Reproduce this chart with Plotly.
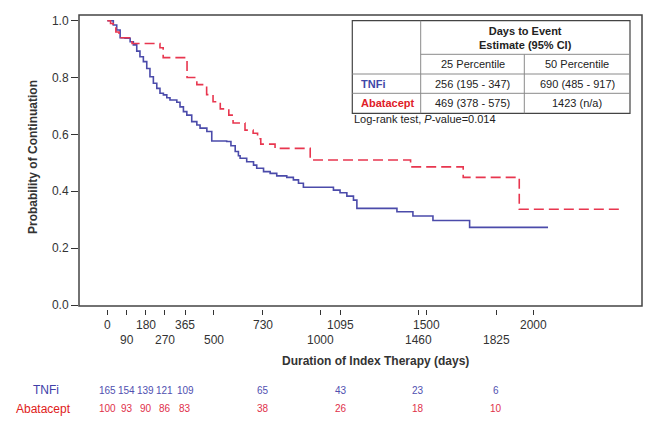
import plotly.graph_objects as go

# Kaplan-Meier step points (days, probability of continuation)
tnfi_days = [0, 28, 44, 60, 83, 107, 122, 138, 153, 169, 185, 200, 216, 232, 247, 263, 279, 294,
             326, 341, 357, 373, 396, 420, 435, 467, 490, 560, 580, 600, 615, 623, 654, 686, 701,
             733, 764, 795, 842, 873, 897, 920, 1061, 1092, 1124, 1155, 1171, 1359, 1434, 1528,
             1700, 2068]
tnfi_prob = [1.0, 0.985, 0.967, 0.94, 0.938, 0.926, 0.915, 0.893, 0.873, 0.856, 0.832, 0.803,
             0.78, 0.762, 0.745, 0.739, 0.729, 0.721, 0.713, 0.697, 0.68, 0.668, 0.645, 0.633,
             0.622, 0.61, 0.577, 0.575, 0.56, 0.54, 0.525, 0.516, 0.504, 0.492, 0.481, 0.469,
             0.463, 0.454, 0.449, 0.44, 0.428, 0.414, 0.404, 0.395, 0.383, 0.369, 0.34, 0.328,
             0.313, 0.297, 0.273, 0.273]

abat_days = [0, 15, 27, 40, 55, 116, 247, 262, 374, 420, 466, 496, 530, 570, 590, 646, 684, 705,
             720, 787, 952, 1423, 1670, 1933, 2420]
abat_prob = [1.0, 0.99, 0.98, 0.96, 0.94, 0.92, 0.905, 0.87, 0.80, 0.775, 0.74, 0.715, 0.69,
             0.668, 0.64, 0.615, 0.604, 0.585, 0.566, 0.551, 0.51, 0.486, 0.449, 0.337, 0.337]

# x tick labels, split in two staggered rows
tick_row1 = [0, 180, 365, 730, 1095, 1500, 2000]
tick_row2 = [90, 270, 500, 1000, 1460, 1825]

# numbers at risk
risk_days = [0, 90, 180, 270, 365, 730, 1095, 1460, 1825]
risk_tnfi = [165, 154, 139, 121, 109, 65, 43, 23, 6]
risk_abat = [100, 93, 90, 86, 83, 38, 26, 18, 10]

# table content
table_cols = ["25 Percentile", "50 Percentile"]
table_groups = ["TNFi", "Abatacept"]
est_25 = ["256 (195 - 347)", "469 (378 - 575)"]
est_50 = ["690 (485 - 917)", "1423 (n/a)"]

BLUE = "#4B4BAA"
RED = "#E8364F"
FONT = "Arial, Liberation Sans, sans-serif"
GRAY = "#333333"

# page body has an 8px margin, so the figure is shrunk by that much
OFF = 8
W, H = 656 - OFF, 423 - OFF
L, R, T, B = 79 - OFF, 14, 15 - OFF, 114
PW, PH = W - L - R, H - T - B
BOTTOM = OFF + H - B


def px(x):
    return (x - OFF - L) / PW


def py(y):
    return (BOTTOM - y) / PH


def note(x, y, text, size=12, color=GRAY, xref="paper", **kw):
    d = dict(x=x, y=y, xref=xref, yref="paper", text=text, showarrow=False,
             xanchor="center", yanchor="middle",
             font=dict(family=FONT, size=size, color=color))
    d.update(kw)
    return d


fig = go.Figure()
fig.add_trace(go.Scatter(x=tnfi_days, y=tnfi_prob, mode="lines", line_shape="hv",
                         line=dict(color=BLUE, width=1.6), name="TNFi"))
fig.add_trace(go.Scatter(x=abat_days, y=abat_prob, mode="lines", line_shape="hv",
                         line=dict(color=RED, width=1.6, dash="10px,5px"), name="Abatacept"))

all_ticks = sorted(tick_row1 + tick_row2)
fig.update_xaxes(range=[-133, 2509], anchor="free", position=0, showline=False,
                 showgrid=False, zeroline=False, ticks="outside", ticklen=5,
                 tickcolor=GRAY, tickwidth=1, tickvals=all_ticks, showticklabels=False)
fig.update_yaxes(range=[-0.0035, 1.02], domain=[3 / PH, 1], showline=False, showgrid=False,
                 zeroline=False, ticks="outside", ticklen=7, tickcolor=GRAY,
                 tickvals=[0, 0.2, 0.4, 0.6, 0.8, 1.0], tickformat=".1f",
                 tickfont=dict(family=FONT, size=12, color=GRAY))

shapes = [dict(type="rect", xref="x domain", yref="y domain", x0=0, x1=1, y0=0, y1=1,
               line=dict(color="#444444", width=1.5))]

ann = []
for v in tick_row1:
    ann.append(note(v, py(325), str(v), xref="x"))
for v in tick_row2:
    ann.append(note(v, py(339.5), str(v), xref="x"))

ann.append(note(px(375), py(361), "<b>Duration of Index Therapy (days)</b>"))
ann.append(note(px(33), py(157), "<b>Probability of Continuation</b>", textangle=-90))

# numbers at risk
ann.append(note(px(46), py(390), "TNFi", color="#4040A8"))
ann.append(note(px(43), py(409), "Abatacept", color="#E02020"))
for d, a, b in zip(risk_days, risk_tnfi, risk_abat):
    ann.append(note(d, py(390), str(a), size=10, color="#5050B0", xref="x"))
    ann.append(note(d, py(408), str(b), size=10, color="#E0304A", xref="x"))

# summary table
tx0, tx1, tc1, tc2 = 352.3, 630, 420.7, 524.3
ty0, ty1, ty_h, ty_r1, ty_r2 = 20.7, 113.3, 54.3, 74, 93.3
inner = dict(color="#8a8a8a", width=1)
shapes.append(dict(type="rect", xref="paper", yref="paper", x0=px(tx0), x1=px(tx1),
                   y0=py(ty1), y1=py(ty0), line=dict(color="#444444", width=1.2),
                   fillcolor="white", layer="above"))
shapes.append(dict(type="line", xref="paper", yref="paper", x0=px(tc1), x1=px(tc1),
                   y0=py(ty0), y1=py(ty1), line=inner))
shapes.append(dict(type="line", xref="paper", yref="paper", x0=px(tc2), x1=px(tc2),
                   y0=py(ty_h), y1=py(ty1), line=inner))
shapes.append(dict(type="line", xref="paper", yref="paper", x0=px(tc1), x1=px(tx1),
                   y0=py(ty_h), y1=py(ty_h), line=inner))
for yy in [ty_r1, ty_r2]:
    shapes.append(dict(type="line", xref="paper", yref="paper", x0=px(tx0), x1=px(tx1),
                       y0=py(yy), y1=py(yy), line=inner))

TC = "#222222"
ann.append(note(px((tc1 + tx1) / 2), py(38), "<b>Days to Event</b><br><b>Estimate (95% CI)</b>",
                size=11, color=TC, align="center"))
col_x = [(tc1 + tc2) / 2, (tc2 + tx1) / 2]
for cx, label in zip(col_x, table_cols):
    ann.append(note(px(cx), py(64.3), label, size=11, color=TC))
row_y = [84, 103.3]
group_colors = ["#3F48A8", "#E02028"]
for ry, g, c, e25, e50 in zip(row_y, table_groups, group_colors, est_25, est_50):
    ann.append(note(px(358.5), py(ry), "<b>" + g + "</b>", size=11, color=c, xanchor="left"))
    ann.append(note(px(col_x[0]), py(ry), e25, size=11, color=TC))
    ann.append(note(px(col_x[1]), py(ry), e50, size=11, color=TC))
ann.append(note(px(351.5), py(118.5), "Log-rank test, <i>P</i>-value=0.014", size=11,
                color=TC, xanchor="left"))

fig.update_layout(width=W, height=H, margin=dict(l=L, r=R, t=T, b=B),
                  plot_bgcolor="white", paper_bgcolor="white", showlegend=False,
                  shapes=shapes, annotations=ann)

fig.write_html("out.html")
